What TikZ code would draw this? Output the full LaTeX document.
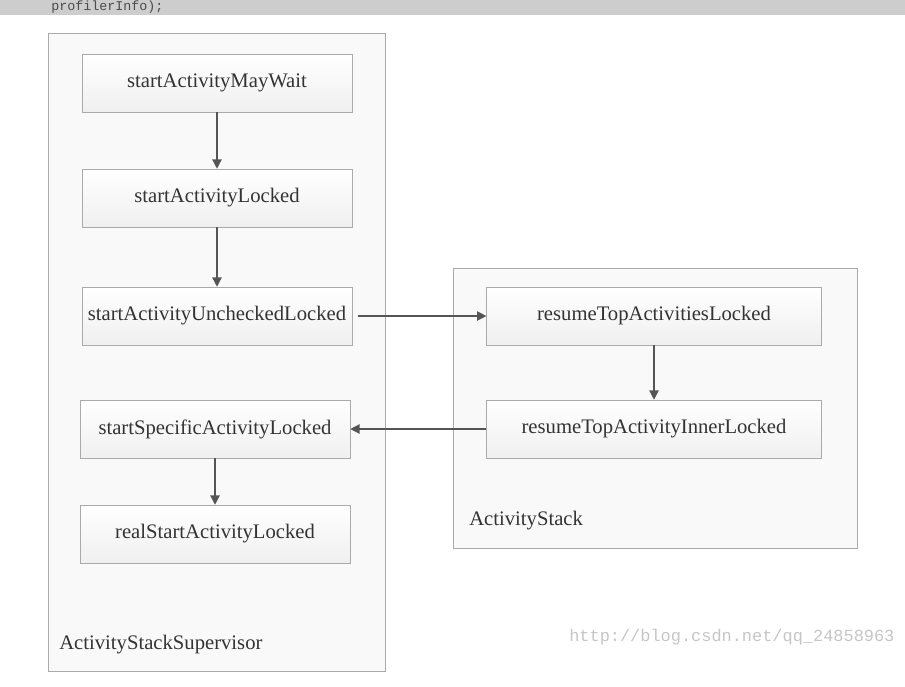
\documentclass[tikz,border=0pt]{standalone}
\usepackage{fontspec}
\setmainfont{Liberation Serif}
\newfontfamily\monofont{Liberation Mono}
\usepackage{tikz}
\usetikzlibrary{arrows.meta}

\definecolor{lineGray}{RGB}{170,170,170}
\definecolor{arrowGray}{RGB}{85,85,85}
\definecolor{panelFill}{RGB}{249,249,249}
\definecolor{bandGray}{RGB}{205,205,205}

\tikzset{
  callbox/.style={draw=lineGray, top color=white, bottom color=gray!12,
    minimum width=202.5pt, minimum height=43.5pt, inner sep=0.75pt,
    font=\fontsize{15.5}{18}\selectfont, text=black!80},
  rightbox/.style={callbox, minimum width=251pt},
  panel/.style={draw=lineGray, fill=panelFill},
  panellabel/.style={anchor=west, inner sep=0.75pt,
    font=\fontsize{15.5}{18}\selectfont, text=black!80},
  callarrow/.style={draw=arrowGray, line width=1pt, -{Triangle[length=7pt,width=7pt]}}
}

\begin{document}
\begin{tikzpicture}[x=0.75pt,y=0.75pt,yscale=-1,xscale=1]
    \useasboundingbox (0,0) rectangle (905,686);
    \fill [white] (0,0) rectangle (905,686);

    %Shape: Band (code line at the top)
    \fill [bandGray] (0,0) rectangle (905,15);
    % Text Node
    \node (code) [anchor=base west, inner sep=0.75pt, text=black!70,
      font=\monofont\fontsize{10}{12}\selectfont] at (50,10.5) {profilerInfo);};

    %Shape: Rectangle (ActivityStackSupervisor)
    \draw [panel] (48,33) rectangle (385,671);
    %Shape: Rectangle (ActivityStack)
    \draw [panel] (453,268) rectangle (857,548);

    % Text Node
    \node (mayWait) [callbox] at (217,83) {startActivityMayWait};
    % Text Node
    \node (locked) [callbox] at (217,198) {startActivityLocked};
    % Text Node
    \node (unchecked) [callbox] at (217,316) {startActivityUncheckedLocked};
    % Text Node
    \node (specific) [callbox] at (215,429) {startSpecificActivityLocked};
    % Text Node
    \node (realStart) [callbox] at (215,534) {realStartActivityLocked};
    % Text Node
    \node (resumeTop) [rightbox] at (654,316) {resumeTopActivitiesLocked};
    % Text Node
    \node (resumeInner) [rightbox] at (654,429) {resumeTopActivityInnerLocked};

    % Text Node
    \node (supLabel) [panellabel] at (58,645) {ActivityStackSupervisor};
    % Text Node
    \node (stackLabel) [panellabel] at (468,521) {ActivityStack};
    % Text Node
    \node (mark) [anchor=west, inner sep=0.75pt, text=gray!45,
      font=\monofont\fontsize{12.7}{15}\selectfont] at (568,637) {http://blog.csdn.net/qq\_24858963};

    % Arrows
    \path (unchecked.east) ++(6,0) coordinate (uOut);
    \draw [callarrow] (mayWait) -- (locked);
    \draw [callarrow] (locked) -- (unchecked);
    \draw [callarrow] (uOut) -- (resumeTop.west);
    \draw [callarrow] (resumeTop) -- (resumeInner);
    \draw [callarrow] (resumeInner.west) -- (specific.east);
    \draw [callarrow] (specific) -- (realStart);

  \end{tikzpicture}
\end{document}
